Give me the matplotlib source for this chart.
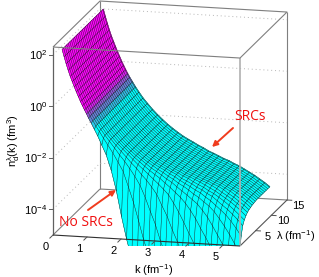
import numpy as np
import matplotlib
matplotlib.use("Agg")
import matplotlib.pyplot as plt
from matplotlib.collections import LineCollection, PolyCollection
from matplotlib.colors import LinearSegmentedColormap, Normalize
from matplotlib.patches import Rectangle

plt.rcParams["font.family"] = ["Liberation Sans", "DejaVu Sans"]
plt.rcParams["mathtext.fontset"] = "custom"
plt.rcParams["mathtext.rm"] = "Liberation Sans"
plt.rcParams["mathtext.it"] = "Liberation Sans"
plt.rcParams["mathtext.default"] = "regular"

# surface mesh
k_low = [0.10, 0.16, 0.22, 0.28, 0.34, 0.40, 0.46, 0.52, 0.58, 0.64, 0.70, 0.76, 0.82]
k_high = [0.88, 0.96, 1.05, 1.15, 1.27, 1.4, 1.55, 1.7, 1.85, 2.0, 2.15, 2.3, 2.45, 2.6, 2.75,
          2.9, 3.05, 3.2, 3.35, 3.5, 3.65, 3.8, 3.95, 4.1, 4.25, 4.4, 4.55, 4.7, 4.85, 5.0]
lam_rows = [1.8, 2.3, 2.8, 3.3, 3.8, 4.3, 4.8, 5.3, 5.8, 6.3, 6.8, 7.3, 7.8, 8.3, 8.8, 9.3,
            9.8, 10.3, 10.8, 11.3, 11.8, 12.3, 12.8, 13.3, 13.8, 14.3, 14.8, 15.0]

# log10 n at the largest lambda (back edge of the surface)
log_n_back = [2.00, 1.72, 1.45, 1.20, 0.97, 0.77, 0.57, 0.38, 0.20, 0.02, -0.14, -0.30, -0.45,
              -0.59, -0.76, -0.95, -1.14, -1.36, -1.56, -1.78, -1.98, -2.16, -2.33, -2.48,
              -2.62, -2.75, -2.86, -2.96, -3.07, -3.16, -3.27, -3.35, -3.44, -3.53, -3.60,
              -3.70, -3.78, -3.89, -4.00, -4.11, -4.24, -4.37, -4.52]

# decades lost below the back edge, one row per lambda, columns are k_high
log_drop = [
    [.02, .04, .08, .14, .27, .44, .82, 1.4, 2.2, 2.9, 3.5, 4.2, 4.7, 5.3, 6.0] + [6.5] * 15,
    [0, 0, .01, .02, .05, .11, .19, .33, .5, .9, 1.34, 1.9, 2.5, 3.0, 3.6, 4.0, 4.5, 4.9, 5.5,
     5.9, 6.4] + [6.5] * 9,
    [0] * 5 + [.02, .05, .11, .17, .27, .41, .6, .92, 1.34, 1.74, 2.26, 2.7, 3.1, 3.6, 3.95,
               4.3, 4.7, 5.1, 5.5, 5.9, 6.3, 6.5, 6.5, 6.5, 6.5],
    [0] * 6 + [.01, .03, .06, .11, .15, .25, .33, .47, .65, .96, 1.26, 1.66, 2.03, 2.44, 2.88,
               3.2, 3.6, 3.85, 4.23, 4.5, 4.86, 5.16, 5.56, 5.9],
    [0] * 8 + [.01, .03, .07, .1, .15, .22, .3, .38, .5, .7, .96, 1.26, 1.58, 1.9, 2.26, 2.62,
               2.96, 3.28, 3.6, 3.85, 4.15, 4.4],
    [0] * 9 + [.01, .02, .04, .07, .1, .14, .2, .27, .34, .44, .57, .75, .99, 1.26, 1.52, 1.8,
               2.1, 2.44, 2.7, 3.04, 3.28],
    [0] * 11 + [.01, .03, .04, .07, .1, .13, .18, .25, .31, .38, .47, .6, .78, 1.0, 1.24, 1.48,
                1.74, 2.0, 2.26],
    [0] * 13 + [.02, .03, .05, .07, .1, .13, .17, .23, .28, .34, .41, .5, .65, .82, 1.0, 1.22, 1.44],
    [0] * 15 + [.02, .03, .05, .08, .1, .13, .16, .21, .26, .32, .38, .45, .55, .68, .83],
    [0] * 17 + [.03, .04, .05, .08, .1, .13, .15, .2, .25, .29, .34, .41, .48],
    [0] * 19 + [.03, .04, .06, .08, .1, .12, .15, .19, .23, .28, .32],
    [0] * 21 + [.03, .04, .06, .08, .1, .12, .14, .18, .22],
    [0] * 23 + [.03, .05, .06, .08, .1, .12, .14],
    [0] * 25 + [.04, .05, .07, .08, .1],
    [0] * 26 + [.03, .04, .05, .07],
    [0] * 27 + [.02, .03, .04],
    [0] * 28 + [.02, .03],
    [0] * 29 + [.01],
    [0] * 30, [0] * 30, [0] * 30, [0] * 30, [0] * 30, [0] * 30, [0] * 30, [0] * 30, [0] * 30, [0] * 30,
]

k_ticks = [0, 1, 2, 3, 4, 5]
lam_ticks = [5, 10, 15]
z_ticks = [2, 0, -2, -4]
z_tick_labels = ["10$^{2}$", "10$^{0}$", "10$^{-2}$", "10$^{-4}$"]

K_MAX, LAM_MAX, Z_MIN, Z_MAX = 5.5, 15.0, -5.0, 2.3


def project(k, lam, z):
    """Parallel projection of (k, lambda, log10 n) to picture pixels."""
    k, lam, z = np.asarray(k, float), np.asarray(lam, float), np.asarray(z, float)
    x = 53 + 187 * k / K_MAX + 47 * lam / LAM_MAX
    y = 235 + 11 * k / K_MAX - 46 * lam / LAM_MAX - 25.75 * (z - Z_MIN)
    return x, y


def line3d(ax, k, lam, z, **kw):
    x, y = project(k, lam, z)
    ax.plot(x, y, solid_capstyle="butt", **kw)


k_grid = np.array(k_low + k_high)
lam_grid = np.array(lam_rows)
drop = np.hstack([np.zeros((len(lam_rows), len(k_low))), np.array(log_drop)])
log_n = np.array(log_n_back) - drop

fig = plt.figure(figsize=(3.19, 2.77), dpi=100)
ax = fig.add_axes([0, 0, 1, 1])
ax.set_xlim(0, 319)
ax.set_ylim(277, 0)
ax.axis("off")

box_color = "#7f7f7f"
grid_color = "#b5b5b5"

# back part of the box
line3d(ax, [0, 0], [LAM_MAX, LAM_MAX], [Z_MIN, Z_MAX], color=box_color, lw=0.8, zorder=1)
line3d(ax, [K_MAX, K_MAX], [LAM_MAX, LAM_MAX], [Z_MIN, Z_MAX], color=box_color, lw=0.8, zorder=1)
line3d(ax, [0, K_MAX], [LAM_MAX, LAM_MAX], [Z_MIN, Z_MIN], color=box_color, lw=0.8, zorder=1)
line3d(ax, [0, 0], [0, LAM_MAX], [Z_MIN, Z_MIN], color=box_color, lw=0.8, zorder=1)
line3d(ax, [K_MAX, K_MAX], [0, LAM_MAX], [Z_MIN, Z_MIN], color="#555555", lw=0.8, zorder=1)
for z in z_ticks:
    line3d(ax, [0, 0, K_MAX], [0, LAM_MAX, LAM_MAX], [z, z, z], color=grid_color,
           lw=0.7, ls=(0, (1, 3)), zorder=1)

# surface faces, far rows first
polys, values = [], []
for i in range(len(lam_grid) - 1, 0, -1):
    for j in range(len(k_grid) - 1):
        ks = k_grid[[j, j + 1, j + 1, j]]
        lams = lam_grid[[i, i, i - 1, i - 1]]
        zs = log_n[[i, i, i - 1, i - 1], [j, j + 1, j + 1, j]]
        x, y = project(ks, lams, zs)
        polys.append(np.column_stack([x, y]))
        values.append(zs.mean())

cmap = LinearSegmentedColormap.from_list("src", ["#00ffff", "#00ffff", "#4a9bd6", "#8a60d8", "#ff00ff"])
norm = Normalize(-1.25, -0.3)
colors = cmap(norm(values))
surface = PolyCollection(polys, facecolors=colors, edgecolors=colors, linewidths=0.3, zorder=2)
ax.add_collection(surface)
clip = Rectangle((0, 0), 319, 246, transform=ax.transData)
surface.set_clip_path(clip)

# mesh lines along k and along lambda
rows = []
for i in range(len(lam_grid)):
    rows.append(np.column_stack(project(k_grid, lam_grid[i], log_n[i])))
cols = []
for j in range(len(k_grid)):
    cols.append(np.column_stack(project(k_grid[j], lam_grid, log_n[:, j])))
row_lines = LineCollection(rows, colors="#101010", linewidths=0.3, zorder=2.1)
col_lines = LineCollection(cols, colors="#101010", linewidths=0.3, zorder=2.2)
ax.add_collection(row_lines)
ax.add_collection(col_lines)
row_lines.set_clip_path(clip)
col_lines.set_clip_path(clip)

# front part of the box goes over the surface
line3d(ax, [0, 0], [0, 0], [Z_MIN, Z_MAX], color="#606060", lw=0.9, zorder=3)
line3d(ax, [K_MAX, K_MAX], [0, 0], [Z_MIN, Z_MAX], color="#b0b0b0", lw=1.2, zorder=3)
line3d(ax, [0, K_MAX], [0, 0], [Z_MIN, Z_MIN], color="#303030", lw=0.8, zorder=3)
line3d(ax, [0, K_MAX, K_MAX, 0, 0], [0, 0, LAM_MAX, LAM_MAX, 0], [Z_MAX] * 5,
       color=box_color, lw=0.8, zorder=3)

# ticks and tick labels
for z, label in zip(z_ticks, z_tick_labels):
    x, y = project(0, 0, z)
    ax.plot([x - 4, x], [y, y], color="#606060", lw=0.7, zorder=3)
    ax.text(x - 6, y + 0.5, label, ha="right", va="center", fontsize=8)
for k in k_ticks:
    x, y = project(k, 0, Z_MIN)
    x2, y2 = project(k, -1.0, Z_MIN)
    ax.plot([x, x2], [y, y2], color="#505050", lw=0.7, zorder=3)
    ax.text(x - 7.5, y + 11.5, str(k), ha="center", va="center", fontsize=8)
for lam in lam_ticks:
    x, y = project(K_MAX, lam, Z_MIN)
    x2, y2 = project(K_MAX + 0.14, lam, Z_MIN)
    ax.plot([x, x2], [y, y2], color="#505050", lw=0.7, zorder=3)
    ax.text(x + 11.5, y + 6, str(lam), ha="center", va="center", fontsize=8)

ax.text(14, 141, "n$_{d}^{\\lambda}$(k) (fm$^{3}$)", rotation=90, ha="center", va="center", fontsize=8)
ax.text(154, 270, "k (fm$^{-1}$)", ha="center", va="center", fontsize=8)
ax.text(296, 236, "λ (fm$^{-1}$)", ha="center", va="center", fontsize=8)

# annotations
red = "#f03c1e"
ax.text(250, 117, "SRCs", color="#f01010", ha="center", va="center", fontsize=10, family="Open Sans")
ax.text(86, 223, "No SRCs", color="#f01010", ha="center", va="center", fontsize=10, family="Open Sans")
ax.annotate("", xy=(212, 147), xytext=(233, 128), zorder=5,
            arrowprops=dict(arrowstyle="-|>", color=red, lw=1.4, mutation_scale=8, shrinkA=0, shrinkB=0))
ax.annotate("", xy=(116, 190), xytext=(88, 210), zorder=5,
            arrowprops=dict(arrowstyle="-|>", color=red, lw=1.4, mutation_scale=8, shrinkA=0, shrinkB=0))

fig.savefig("out.png", dpi=100)
